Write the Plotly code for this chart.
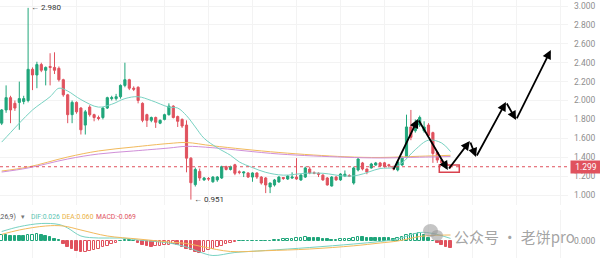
import plotly.graph_objects as go

# ---------------- data ----------------
idx = list(range(103))
opens = [1.76,1.90,2.03,1.97,1.98,1.99,2.00,2.33,2.27,2.38,
         2.32,2.36,2.35,2.34,2.22,2.06,1.85,1.98,1.92,1.74,
         1.93,1.85,1.82,1.82,1.92,2.02,2.02,2.04,2.16,2.22,
         2.13,2.14,1.97,1.85,1.79,1.82,1.76,1.80,1.85,1.94,
         1.83,1.80,1.74,1.39,1.11,1.25,1.16,1.175,1.14,1.16,
         1.18,1.30,1.27,1.32,1.245,1.233,1.233,1.19,1.233,1.19,
         1.18,1.085,1.106,1.138,1.185,1.169,1.18,1.19,1.159,1.19,
         1.275,1.235,1.23,1.21,1.18,1.095,1.19,1.16,1.20,1.205,
         1.127,1.265,1.339,1.275,1.286,1.317,1.339,1.34,1.32,1.29,
         1.265,1.317,1.40,1.72,1.68,1.74,1.68,1.74,1.66,1.45,
         1.37,1.34,1.31]
highs = [1.91,2.16,2.05,2.00,2.20,2.05,2.98,2.35,2.41,2.40,
         2.36,2.50,2.51,2.36,2.23,2.07,2.00,1.99,1.93,1.90,
         1.95,1.86,1.84,1.93,2.04,2.05,2.07,2.17,2.40,2.23,
         2.15,2.15,1.98,1.86,1.83,1.83,1.80,1.86,1.97,1.95,
         1.84,1.81,1.79,1.40,1.29,1.28,1.19,1.19,1.20,1.20,
         1.31,1.31,1.31,1.33,1.26,1.25,1.24,1.24,1.24,1.20,
         1.19,1.13,1.17,1.20,1.19,1.21,1.24,1.39,1.22,1.30,
         1.30,1.25,1.24,1.22,1.19,1.20,1.20,1.23,1.26,1.22,
         1.30,1.39,1.35,1.28,1.34,1.35,1.35,1.35,1.33,1.31,
         1.36,1.41,1.85,1.90,1.80,1.84,1.78,1.76,1.67,1.46,
         1.38,1.35,1.32]
lows = [1.74,1.87,1.76,1.89,1.69,1.96,1.98,2.11,2.13,2.30,
        2.16,2.16,2.28,2.20,2.04,1.76,1.76,1.86,1.64,1.64,
        1.83,1.78,1.79,1.80,1.91,2.00,2.00,2.02,2.14,2.11,
        2.10,1.97,1.77,1.72,1.77,1.71,1.75,1.79,1.84,1.81,
        1.72,1.71,1.24,0.951,1.09,1.15,1.15,1.15,1.13,1.14,
        1.17,1.26,1.26,1.21,1.22,1.19,1.18,1.14,1.17,1.11,
        1.02,1.02,1.09,1.13,1.16,1.16,1.17,1.16,1.15,1.18,
        1.22,1.22,1.19,1.15,1.10,1.09,1.15,1.15,1.19,1.19,
        1.11,1.25,1.26,1.22,1.28,1.31,1.30,1.29,1.29,1.26,
        1.25,1.31,1.39,1.58,1.66,1.72,1.66,1.62,1.34,1.34,
        1.32,1.29,1.28]
closes = [1.90,2.03,1.90,1.92,2.02,2.02,2.33,2.27,2.38,2.32,
          2.35,2.35,2.32,2.22,2.06,1.85,1.98,1.88,1.69,1.88,
          1.85,1.82,1.81,1.92,2.03,2.03,2.04,2.16,2.22,2.13,
          2.12,2.00,1.79,1.79,1.82,1.77,1.79,1.85,1.94,1.82,
          1.78,1.73,1.39,1.13,1.27,1.18,1.18,1.17,1.19,1.19,
          1.30,1.27,1.30,1.23,1.24,1.243,1.19,1.233,1.19,1.127,
          1.106,1.127,1.159,1.19,1.175,1.201,1.19,1.17,1.212,1.286,
          1.233,1.23,1.22,1.16,1.106,1.19,1.16,1.222,1.22,1.20,
          1.286,1.381,1.275,1.243,1.328,1.339,1.307,1.30,1.31,1.28,
          1.35,1.40,1.72,1.61,1.72,1.82,1.72,1.63,1.44,1.37,
          1.34,1.31,1.299]

# moving averages (sampled points)
ma_fast_x = [0,2,4,7,11,13,15,18,22,25,28,31,34,38,40,42,44,46,49,52,54,57,60,64,69,73,78,81,86,89,91,94,97,100,102]
ma_fast_y = [1.56,1.66,1.76,1.90,2.04,2.13,2.10,2.01,1.93,1.96,2.02,2.04,2.00,1.93,1.92,1.84,1.72,1.60,1.50,1.42,
             1.35,1.29,1.24,1.21,1.23,1.23,1.20,1.21,1.28,1.29,1.34,1.48,1.58,1.55,1.46]
ma_slow1_x = [0,6,15,22,30,38,42,48,63,78,86,95,102]
ma_slow1_y = [1.254,1.296,1.402,1.466,1.508,1.545,1.555,1.52,1.45,1.405,1.397,1.41,1.42]
ma_slow2_x = [0,6,15,22,30,38,42,48,63,78,86,95,102]
ma_slow2_y = [1.243,1.286,1.381,1.434,1.466,1.497,1.515,1.50,1.434,1.40,1.392,1.40,1.407]

# MACD
hist = [0.058,0.056,0.055,0.054,0.052,0.050,0.058,0.064,0.068,0.060,
        0.052,0.040,0.025,0.006,-0.030,-0.060,-0.080,-0.100,-0.110,-0.105,
        -0.095,-0.085,-0.075,-0.060,-0.045,-0.030,-0.015,0.005,0.006,0.007,
        0.004,-0.020,-0.035,-0.045,-0.055,-0.050,-0.045,-0.040,-0.035,-0.030,
        -0.040,-0.055,-0.075,-0.090,-0.110,-0.120,-0.105,-0.090,-0.075,-0.060,
        -0.045,-0.030,-0.018,-0.008,0.003,0.004,0.003,0.004,0.005,0.004,
        0.003,0.004,0.006,0.012,0.018,0.022,0.025,0.030,0.033,0.036,
        0.035,0.032,0.028,0.022,0.016,0.012,0.014,0.016,0.018,0.020,
        0.030,0.040,0.038,0.035,0.033,0.032,0.030,0.028,0.026,0.024,
        0.035,0.045,0.060,0.070,0.075,0.078,0.060,0.030,0.005,-0.020,
        -0.040,-0.055,-0.069]
dif_x = [0,4,9,13,15,18,22,27,31,38,42,45,48,53,60,70,80,86,90,95,98,102]
dif_y = [0.095,0.143,0.175,0.165,0.13,0.05,0.03,0.03,0.01,-0.02,-0.06,-0.11,-0.145,-0.115,-0.095,-0.065,-0.03,-0.005,0.02,0.085,0.075,0.026]
dea_x = [0,4,10,14,18,24,31,38,42,46,52,60,70,80,86,90,95,98,102]
dea_y = [0.066,0.11,0.15,0.15,0.11,0.05,0.02,-0.01,-0.025,-0.06,-0.105,-0.097,-0.08,-0.048,-0.02,0.0,0.045,0.056,0.060]

price_ticks = [1.0,1.2,1.4,1.6,1.8,2.0,2.2,2.4,2.6,2.8,3.0]
last_price = closes[-1]

# projected path drawn on the chart (index, price)
path_x = [88.9,94.6,101.4,106.4,107.8,114.6,116.9,124.8]
path_y = [1.254,1.804,1.265,1.571,1.402,1.984,1.794,2.534]
box_x = [99.45,104.0]
box_y = [1.240,1.317]

# ---------------- styling ----------------
GREEN = "#20a67b"
RED = "#e0525e"
TEAL = "#78d2c2"
ORANGE = "#f2ba5c"
PURPLE = "#d08fd8"
GRID = "#f3f3f3"
TICK = "#8e8e8e"
W, H = 600, 258
PLOT_W = 568
FONT = "Roboto, 'Noto Sans', sans-serif"

fig = go.Figure()
fig.add_trace(go.Candlestick(
    x=idx, open=opens, high=highs, low=lows, close=closes,
    increasing=dict(line=dict(color=GREEN, width=1), fillcolor=GREEN),
    decreasing=dict(line=dict(color=RED, width=1), fillcolor=RED),
    whiskerwidth=0, showlegend=False, hoverinfo="skip", xaxis="x", yaxis="y"))
for xs, ys, c in [(ma_slow1_x, ma_slow1_y, ORANGE), (ma_slow2_x, ma_slow2_y, PURPLE), (ma_fast_x, ma_fast_y, TEAL)]:
    fig.add_trace(go.Scatter(x=xs, y=ys, mode="lines", showlegend=False, hoverinfo="skip",
                             line=dict(color=c, width=1, shape="spline", smoothing=1.0), xaxis="x", yaxis="y"))

fill_cols, line_cols = [], []
for i, v in enumerate(hist):
    base = GREEN if v >= 0 else RED
    prev = hist[i - 1] if i > 0 else v - 1
    hollow = v > prev
    fill_cols.append("white" if hollow else base)
    line_cols.append(base)
fig.add_trace(go.Bar(x=idx, y=hist, width=0.62, showlegend=False, hoverinfo="skip",
                     marker=dict(color=fill_cols, line=dict(color=line_cols, width=1)),
                     xaxis="x2", yaxis="y2"))
fig.add_trace(go.Scatter(x=dif_x, y=dif_y, mode="lines", showlegend=False, hoverinfo="skip",
                         line=dict(color=TEAL, width=1, shape="spline"), xaxis="x2", yaxis="y2"))
fig.add_trace(go.Scatter(x=dea_x, y=dea_y, mode="lines", showlegend=False, hoverinfo="skip",
                         line=dict(color=ORANGE, width=1, shape="spline"), xaxis="x2", yaxis="y2"))

xr = [-1.7 / 4.4, (PLOT_W - 1.7) / 4.4]
xcommon = dict(range=xr, showticklabels=False, showgrid=True, gridcolor=GRID, gridwidth=1,
               tick0=6.9, dtick=10, zeroline=False, showline=False, ticks="")
fig.update_layout(
    width=W, height=H, margin=dict(l=0, r=W - PLOT_W, t=0, b=0),
    paper_bgcolor="white", plot_bgcolor="white", bargap=0,
    font=dict(family=FONT, size=8, color=TICK),
    xaxis=dict(domain=[0, 1], anchor="y", rangeslider=dict(visible=False), **xcommon),
    xaxis2=dict(domain=[0, 1], anchor="y2", matches="x", **xcommon),
    yaxis=dict(domain=[53 / H, 1], range=[3 - (H - 53 - 6) / 94.5, 3 + 6 / 94.5],
               side="right", tickvals=price_ticks, ticktext=[f"{v:.3f}" for v in price_ticks],
               showgrid=True, gridcolor=GRID, zeroline=False, ticks="", ticklabelstandoff=5,
               tickfont=dict(size=8.5, color=TICK)),
    yaxis2=dict(domain=[0, 48 / H], range=[-0.17, 0.31], side="right", tickvals=[0],
                ticktext=["0.000"], showgrid=False, zeroline=False, ticks="", ticklabelstandoff=5,
                tickfont=dict(size=8.5, color=TICK)),
)

# current price line and tag
fig.add_shape(type="line", xref="paper", x0=0, x1=1, yref="y", y0=last_price, y1=last_price,
              line=dict(color=RED, width=1, dash="3px,3px"))
fig.add_annotation(xref="paper", x=1, xanchor="left", xshift=2, yref="y", y=last_price,
                   text=f"{last_price:.3f}", showarrow=False, bgcolor=RED, borderpad=1, width=28,
                   font=dict(color="white", size=8.5))

# high / low labels
hi_i = max(idx, key=lambda i: highs[i])
lo_i = min(idx, key=lambda i: lows[i])
fig.add_annotation(x=hi_i, y=highs[hi_i], xref="x", yref="y", xanchor="left", xshift=1, showarrow=False,
                   text=f"\u2190 {highs[hi_i]:.3f}", font=dict(size=8, color="#333"))
fig.add_annotation(x=lo_i, y=lows[lo_i], xref="x", yref="y", xanchor="left", xshift=1, showarrow=False,
                   text=f"\u2190 {lows[lo_i]:.3f}", font=dict(size=8, color="#333"))

# drawn projection path
for i in range(len(path_x) - 1):
    fig.add_annotation(x=path_x[i + 1], y=path_y[i + 1], ax=path_x[i], ay=path_y[i],
                       xref="x", yref="y", axref="x", ayref="y", text="", showarrow=True,
                       arrowhead=2, arrowsize=1, arrowwidth=1.8, arrowcolor="black", standoff=0)
fig.add_shape(type="rect", xref="x", yref="y", x0=box_x[0], x1=box_x[1], y0=box_y[0], y1=box_y[1],
              line=dict(color="#d9434f", width=1.5))

# MACD legend
ly = (H - 217) / H
def legend_item(xpx, text, color, anchor="left"):
    fig.add_annotation(xref="paper", yref="paper", x=xpx / PLOT_W, y=ly, xanchor=anchor, yanchor="middle",
                       showarrow=False, text=text, borderpad=0,
                       font=dict(family=FONT, size=6.8, color=color))
legend_item(17, "MACD(12,26,9)", "#555", "right")
legend_item(20, "\u25be", "#777")
legend_item(30, f"DIF:{dif_y[-1]:.3f}", "#5cc4b2")
legend_item(61, f"DEA:{dea_y[-1]:.3f}", "#eab13f")
legend_item(95, f"MACD:{hist[-1]:.3f}", RED)

# watermark
def px(xp): return xp / PLOT_W
def py(yp): return (H - yp) / H
fig.add_shape(type="circle", xref="paper", yref="paper", x0=px(423), x1=px(438), y0=py(237), y1=py(224),
              fillcolor="rgba(150,150,150,0.55)", line=dict(width=0))
fig.add_shape(type="circle", xref="paper", yref="paper", x0=px(431), x1=px(443), y0=py(241), y1=py(230),
              fillcolor="rgba(150,150,150,0.55)", line=dict(width=0))
fig.add_annotation(xref="paper", yref="paper", x=px(514), y=py(236), xanchor="center", yanchor="middle",
                   showarrow=False, text="公众号 · 老饼pro",
                   font=dict(family="Noto Sans CJK SC", size=15, color="rgba(140,140,140,0.8)"))

fig.write_html("out.html")
